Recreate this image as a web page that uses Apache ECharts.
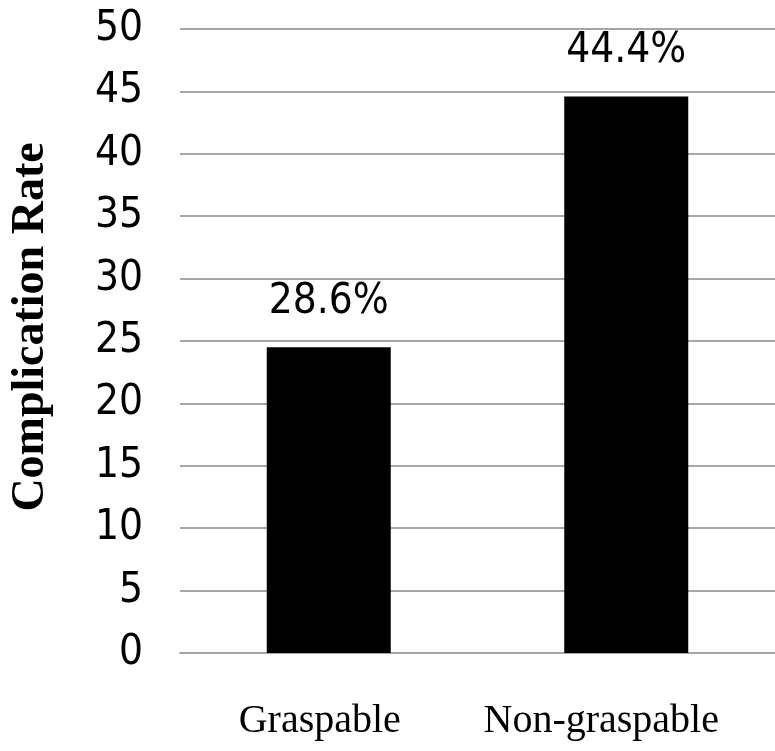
<!DOCTYPE html>
<html>
<head>
<meta charset="utf-8">
<script src="https://cdn.jsdelivr.net/npm/echarts@6/dist/echarts.min.js"></script>
<style>html,body{margin:0;padding:0;background:#fff;}#c{width:775px;height:751px;}</style>
</head>
<body>
<div id="c"></div>
<script>
const categories = ['Graspable', 'Non-graspable'];
const values = [24.5, 44.6];
const barLabels = ['28.6%', '44.4%'];
const yMin = 0, yMax = 50, yInterval = 5;
const yAxisName = 'Complication Rate';

const chart = echarts.init(document.getElementById('c'));
chart.setOption({
  animation: false,
  backgroundColor: '#fff',
  grid: { left: 174, top: 29, width: 605, height: 624, containLabel: false },
  xAxis: {
    type: 'category',
    data: categories,
    axisLine: { show: true, lineStyle: { color: '#a6a6a6', width: 2 } },
    axisTick: { show: false },
    axisLabel: {
      interval: 0,
      color: '#000', fontFamily: 'Liberation Serif, serif', fontSize: 40, margin: 48,
      formatter: (v, i) => i === 0 ? '{a|' + v + '}' : '{b|' + v + '}',
      rich: {
        a: { color: '#000', fontFamily: 'Liberation Serif, serif', fontSize: 40, padding: [0, 18, 0, 0] },
        b: { color: '#000', fontFamily: 'Liberation Serif, serif', fontSize: 40, padding: [0, 50, 0, 0] }
      }
    }
  },
  yAxis: {
    type: 'value',
    min: yMin, max: yMax, interval: yInterval,
    name: yAxisName,
    nameLocation: 'middle',
    nameGap: 126,
    nameRotate: 90,
    nameTextStyle: { color: '#000', fontFamily: 'Liberation Serif, serif', fontWeight: 'bold', fontSize: 46, padding: [0, 0, 0, 28] },
    axisLine: { show: false },
    axisTick: { show: false },
    splitLine: { show: true, lineStyle: { color: '#a6a6a6', width: 2 } },
    axisLabel: { color: '#000', fontFamily: '"Liberation Sans Narrow", "DejaVu Sans Condensed", sans-serif', fontSize: 42, margin: 37 }
  },
  series: [{
    type: 'bar',
    data: values,
    barWidth: 124,
    itemStyle: { color: '#000' },
    label: {
      show: true,
      position: 'top',
      distance: 24,
      color: '#000',
      fontFamily: '"Liberation Sans Narrow", "DejaVu Sans Condensed", sans-serif',
      fontSize: 42,
      formatter: p => barLabels[p.dataIndex]
    }
  }]
});
</script>
</body>
</html>
